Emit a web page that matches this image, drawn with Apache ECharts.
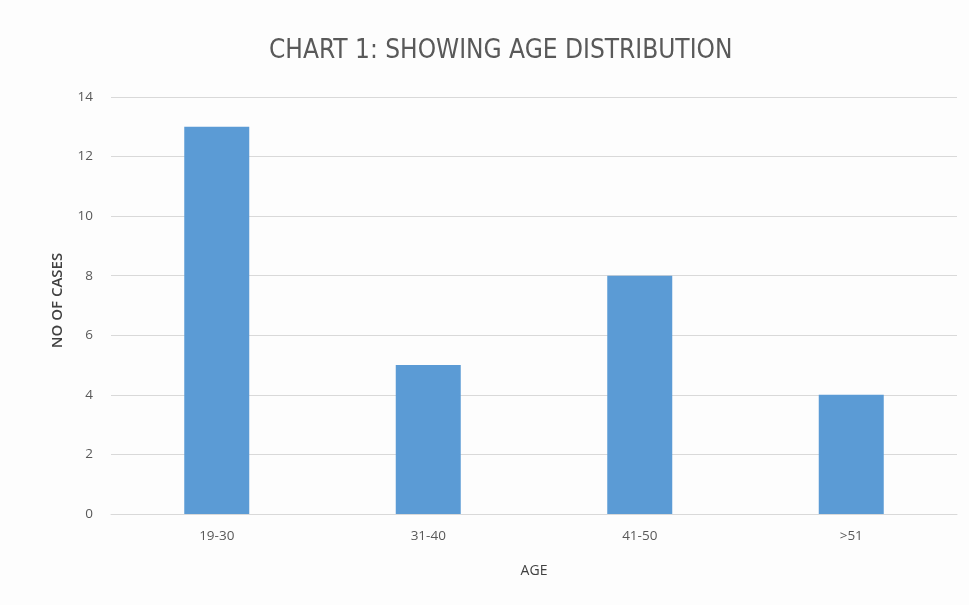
<!DOCTYPE html>
<html><head><meta charset="utf-8">
<script src="https://cdn.jsdelivr.net/npm/echarts@6/dist/echarts.min.js"></script>
<style>html,body{margin:0;padding:0;background:#fff}#c{width:969px;height:605px}</style>
</head><body><div id="c"></div>
<script>
const categories = ['19-30', '31-40', '41-50', '>51'];
const cases = [13, 5, 8, 4];
const yTicks = { min: 0, max: 14, interval: 2 };
const titleText = 'CHART 1: SHOWING AGE DISTRIBUTION';

const chart = echarts.init(document.getElementById('c'));
chart.setOption({
  backgroundColor: '#fdfdfd',
  animation: false,
  title: {
    text: titleText, left: 264, top: 33,
    textStyle: { fontFamily: '"Liberation Sans Narrow", "DejaVu Sans Condensed", sans-serif', fontWeight: 'normal', fontSize: 26, color: '#595959' }
  },
  grid: { left: 111, right: 12, top: 97, bottom: 91 },
  xAxis: {
    type: 'category', data: categories,
    name: 'AGE', nameLocation: 'middle', nameGap: 50,
    nameTextStyle: { fontFamily: 'Open Sans', fontSize: 14, color: '#404040' },
    axisLine: { show: true, lineStyle: { color: '#d9d9d9' } },
    axisTick: { show: false },
    axisLabel: { fontFamily: 'Open Sans', fontSize: 13.5, color: '#595959', margin: 15 }
  },
  yAxis: {
    type: 'value', min: yTicks.min, max: yTicks.max, interval: yTicks.interval,
    name: 'NO OF CASES', nameLocation: 'middle', nameGap: 46, nameRotate: 90,
    nameTextStyle: { fontFamily: 'Open Sans', fontSize: 15, fontWeight: 600, color: '#404040', padding: [0, 0, 0, 10] },
    axisLine: { show: false }, axisTick: { show: false },
    splitLine: { lineStyle: { color: '#d9d9d9' } },
    axisLabel: { fontFamily: 'Open Sans', fontSize: 13.5, color: '#595959', margin: 18 }
  },
  series: [{
    type: 'bar', data: cases, barWidth: 65,
    itemStyle: { color: '#5b9bd5' }
  }]
});
</script></body></html>
